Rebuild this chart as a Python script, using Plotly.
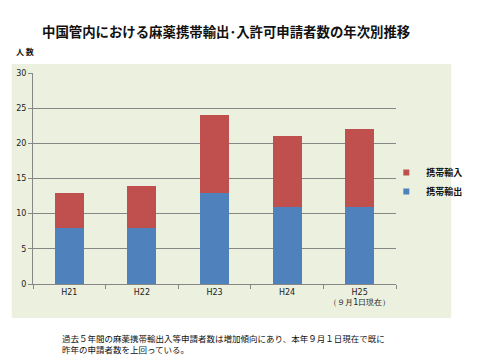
import plotly.graph_objects as go

categories = ["H21", "H22", "H23", "H24", "H25"]
tick_labels = ["H21", "H22", "H23", "H24", "H25<br>（９月1日現在）"]
export_vals = [8, 8, 13, 11, 11]   # 携帯輸出
import_vals = [5, 6, 11, 10, 11]   # 携帯輸入

panel = "#EBF0DF"
blue = "#4F81BD"
red = "#C0504D"
W, H = 480, 360
L, R, T, B = 33, 72, 73, 76

fig = go.Figure()
fig.add_trace(go.Bar(x=categories, y=export_vals, name="携帯輸出", showlegend=False,
                     marker=dict(color=blue, line=dict(width=0))))
fig.add_trace(go.Bar(x=categories, y=import_vals, name="携帯輸入", showlegend=False,
                     marker=dict(color=red, line=dict(width=0))))
# legend-only entries with small square swatches
fig.add_trace(go.Scatter(x=[None], y=[None], mode="markers", name="携帯輸入",
                         marker=dict(symbol="square", size=6, color=red)))
fig.add_trace(go.Scatter(x=[None], y=[None], mode="markers", name="携帯輸出",
                         marker=dict(symbol="square", size=6, color=blue)))

def px_x(px):
    return (px - L) / (W - L - R)

def px_y(py):
    return (H - B - py) / (H - T - B)

fig.update_layout(
    width=W, height=H,
    margin=dict(l=L, r=R, t=T, b=B, pad=0),
    barmode="stack", bargap=0.6,
    paper_bgcolor="white", plot_bgcolor=panel,
    font=dict(family="DejaVu Sans", size=9, color="#222222"),
    showlegend=True,
    legend=dict(x=px_x(398), y=px_y(158), xanchor="left", yanchor="top",
                traceorder="normal", bgcolor="rgba(0,0,0,0)",
                font=dict(family="Noto Sans CJK JP", size=9, color="#111111", weight="bold"),
                itemwidth=30, tracegroupgap=0),
    shapes=[dict(type="rect", xref="paper", yref="paper", layer="below",
                 x0=px_x(11), x1=px_x(465), y0=px_y(318), y1=px_y(64),
                 fillcolor=panel, line=dict(width=0))],
    annotations=[
        dict(text="<b>中国管内における麻薬携帯輸出･入許可申請者数の年次別推移</b>",
             xref="paper", yref="paper", x=px_x(232), y=px_y(31),
             xanchor="center", yanchor="middle", showarrow=False,
             font=dict(family="Noto Sans CJK JP", size=13.4, color="#111111")),
        dict(text="<b>人 数</b>", xref="paper", yref="paper", x=px_x(13), y=px_y(51),
             xanchor="left", yanchor="middle", showarrow=False,
             font=dict(family="Noto Sans CJK JP", size=8, color="#111111")),
        dict(text="過去５年間の麻薬携帯輸出入等申請者数は増加傾向にあり、本年９月１日現在で既に<br>昨年の申請者数を上回っている。",
             xref="paper", yref="paper", x=px_x(61), y=px_y(343),
             xanchor="left", yanchor="middle", align="left", showarrow=False,
             font=dict(family="Noto Sans CJK JP", size=8.5, color="#111111")),
    ],
)
fig.update_xaxes(tickvals=categories, ticktext=tick_labels, tickson="boundaries",
                 ticks="outside", ticklen=4, tickcolor="#868686", tickangle=0,
                 automargin=False,
                 showline=True, linecolor="#868686", linewidth=1,
                 tickfont=dict(family="DejaVu Sans", size=8, color="#222222"))
fig.update_yaxes(range=[0, 30], dtick=5, ticks="outside", ticklen=4,
                 tickcolor="#868686", showline=True, linecolor="#868686",
                 automargin=False,
                 gridcolor="#868686", gridwidth=1, zeroline=False,
                 tickfont=dict(family="DejaVu Sans", size=8, color="#222222"))

fig.write_html("out.html", config={"displayModeBar": False},
               post_script="document.body.style.margin='0';")
